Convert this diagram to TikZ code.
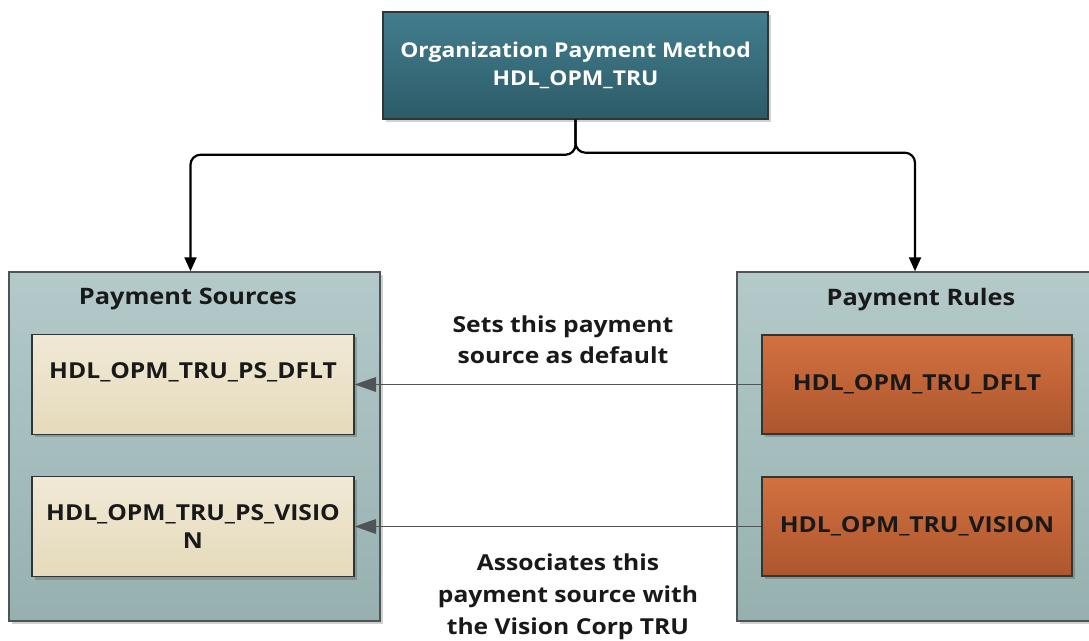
\documentclass[tikz,border=0pt]{standalone}
\usepackage{fontspec}
\setmainfont{Open Sans}[FakeStretch=1.12]
\usepackage{tikz}
\usetikzlibrary{arrows.meta, positioning, shadows}
\usepackage{xcolor}
\definecolor{opmtop}{HTML}{427E8E}
\definecolor{opmbot}{HTML}{2D5B68}
\definecolor{grptop}{HTML}{B4CACA}
\definecolor{grpbot}{HTML}{96B0B0}
\definecolor{srctop}{HTML}{F1E9D6}
\definecolor{srcbot}{HTML}{E5DABA}
\definecolor{rultop}{HTML}{D2713F}
\definecolor{rulbot}{HTML}{AD562E}
\definecolor{edgegray}{HTML}{2E3636}
\definecolor{linkgray}{HTML}{4F5555}

\tikzset{
    boxshadow/.style={drop shadow={shadow xshift=2.25pt, shadow yshift=-2.25pt, fill=black, opacity=0.18}},
    opmbox/.style={draw=edgegray, line width=1.1pt, top color=opmtop, bottom color=opmbot, text=white, boxshadow},
    grpbox/.style={draw=edgegray!85, line width=1.1pt, top color=grptop, bottom color=grpbot, boxshadow},
    srcbox/.style={draw=edgegray, line width=1.1pt, top color=srctop, bottom color=srcbot, text=black!90, minimum width=241.5pt, minimum height=75pt, boxshadow},
    rulbox/.style={draw=edgegray, line width=1.1pt, top color=rultop, bottom color=rulbot, text=black!90, minimum width=232.5pt, minimum height=74.25pt, boxshadow},
    opmarrow/.style={draw=black, line width=1.65pt, rounded corners=7.5pt, -{Triangle[length=10.5pt, width=9pt]}},
    linkarrow/.style={draw=linkgray, line width=1.1pt, -{Triangle[length=16pt, width=11pt]}}
}

\begin{document}
\begin{tikzpicture}[x=0.75pt, y=-0.75pt, align=center, font=\fontsize{16.5}{21}\selectfont\bfseries]
\useasboundingbox (0,0) rectangle (1089,641);
\clip (0,0) rectangle (1089,641);

% top method
\node[opmbox, minimum width=288.75pt, minimum height=80.25pt, font=\fontsize{15.3}{21}\selectfont\bfseries] (opm) at (575.5,65.5) {Organization Payment Method\\HDL\_OPM\_TRU};

% containers
\node[grpbox, minimum width=278.25pt, minimum height=261.75pt] (src) at (194.5,446.5) {};
\node[grpbox, minimum width=276pt, minimum height=261.75pt] (rul) at (921,446.5) {};
\node[below=9pt of src.north, xshift=-5pt, text=black!90, font=\fontsize{17}{21}\selectfont\bfseries] (srctitle) {Payment Sources};
\node[below=9pt of rul.north, text=black!90, font=\fontsize{17}{21}\selectfont\bfseries] (rultitle) {Payment Rules};

% sources
\node[srcbox] (srcdflt) at (193,384.5) {HDL\_OPM\_TRU\_PS\_DFLT\\~};
\node[srcbox] (srcvis) at (193,526.5) {HDL\_OPM\_TRU\_PS\_VISIO\\N};

% rules
\node[rulbox] (ruldflt) at (917,384.5) {HDL\_OPM\_TRU\_DFLT};
\node[rulbox] (rulvis) at (917,526.5) {HDL\_OPM\_TRU\_VISION};

% connectors
\draw[opmarrow] (opm.south) -- ++(0,35) -| ([xshift=-3pt]src.north);
\draw[opmarrow] (opm.south) -- ++(0,33) -| ([xshift=-4.5pt]rul.north);
\draw[linkarrow] (ruldflt.west) -- (srcdflt.east);
\draw[linkarrow] (rulvis.west) -- (srcvis.east);

% labels
\node[text=black!90, font=\fontsize{16.5}{23}\selectfont\bfseries] (lbldflt) at (563,340) {Sets this payment\\source as default};
\node[text=black!90, font=\fontsize{16.5}{24}\selectfont\bfseries] (lblvis) at (568,597) {Associates this\\payment source with\\the Vision Corp TRU};
\end{tikzpicture}
\end{document}
